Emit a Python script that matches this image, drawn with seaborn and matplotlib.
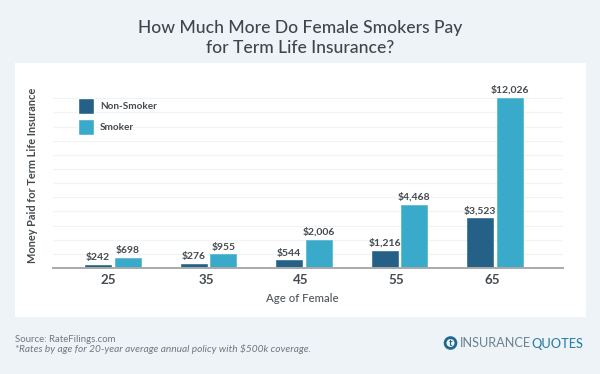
import matplotlib
matplotlib.use("Agg")
import matplotlib.pyplot as plt
from matplotlib.patches import Rectangle, Circle
import pandas as pd
import seaborn as sns

ages = ["25", "35", "45", "55", "65"]
non_smoker = [242, 276, 544, 1216, 3523]
smoker = [698, 955, 2006, 4468, 12026]
y_grid = [1000, 2000, 3000, 4000, 5000, 6000, 7000, 8000, 9000, 10000, 11000, 12000]

df = pd.DataFrame({
    "age": ages * 2,
    "paid": non_smoker + smoker,
    "group": ["Non-Smoker"] * len(ages) + ["Smoker"] * len(ages),
})

sns.set_theme(style="white")
plt.rcParams["font.family"] = ["Lato", "DejaVu Sans"]

W, H = 600, 374
bg = "#eef3f7"
dark = "#444b50"

fig = plt.figure(figsize=(6, 3.74), dpi=100, facecolor=bg)

# white card behind the chart
fig.add_artist(Rectangle((15 / W, 1 - 317 / H), 571 / W, 254 / H, transform=fig.transFigure,
                         facecolor="white", edgecolor="none", zorder=-1))

ax = fig.add_axes([53 / W, 1 - 268 / H, 510 / W, 172 / H])
ax.patch.set_alpha(0)

sns.barplot(data=df, x="age", y="paid", hue="group", order=ages,
            hue_order=["Non-Smoker", "Smoker"],
            palette=["#256186", "#3aaaca"], width=0.62, gap=0.13,
            saturation=1, ax=ax, zorder=3)

ax.set_xlim(-0.628, 4.712)
ax.set_ylim(0, 12160)
ax.set_yticks(y_grid)
ax.set_yticklabels([])
ax.tick_params(axis="y", length=0)
ax.grid(axis="y", color="#f1f3f4", linewidth=0.9, zorder=0)
ax.set_axisbelow(True)

# tick labels sit a little left of the bar groups in the original
ax.set_xticks([i + d for i, d in enumerate([-0.05, -0.02, -0.03, -0.03, -0.03])])
ax.set_xticklabels(ages, fontsize=9.6, fontweight="bold", color=dark)
ax.tick_params(axis="x", length=0, pad=4.3)

for name in ["top", "left", "right"]:
    ax.spines[name].set_visible(False)
ax.spines["bottom"].set_color("#a9a9a9")
ax.spines["bottom"].set_linewidth(1.4)
ax.spines["bottom"].set_zorder(5)

ax.set_xlabel("")
ax.set_ylabel("")

for cont, vals in zip(ax.containers, [non_smoker, smoker]):
    ax.bar_label(cont, labels=[f"${v:,}" for v in vals], padding=2,
                 fontsize=7.5, fontweight="bold", color=dark)
    for bar in cont:
        bar.set_edgecolor("#2f6f92" if vals is non_smoker else "#4fb6d1")
        bar.set_linewidth(0.5)

handles, labels = ax.get_legend_handles_labels()
leg = ax.legend(handles, labels, loc="upper left", bbox_to_anchor=(25 / 510, 170 / 172),
                frameon=False, handlelength=1.6, handleheight=2.08,
                labelspacing=0.5, handletextpad=0.6, borderpad=0, borderaxespad=0,
                prop={"weight": "bold", "size": 7.2})
for t in leg.get_texts():
    t.set_color(dark)

fig.text(300 / W, 1 - 28 / H, "How Much More Do Female Smokers Pay", ha="center", va="center",
         fontsize=12.6, color="#3f464b", fontweight="medium")
fig.text(300 / W, 1 - 48 / H, "for Term Life Insurance?", ha="center", va="center",
         fontsize=12.6, color="#3f464b", fontweight="medium")

fig.text(33 / W, 1 - 175 / H, "Money Paid for Term Life Insurance", rotation=90, ha="center",
         va="center", fontsize=7.9, fontweight="bold", color=dark)
fig.text(302 / W, 1 - 298.5 / H, "Age of Female", ha="center", va="center", fontsize=8.2,
         color="#50575c", fontweight="medium")

fig.text(15 / W, 1 - 339 / H, "Source: RateFilings.com", ha="left", va="center", fontsize=6.9,
         color="#6f787e")
fig.text(15 / W, 1 - 349 / H, "*Rates by age for 20-year average annual policy with $500k coverage.",
         ha="left", va="center", fontsize=7.3, color="#6f787e", style="italic")

# logo
logo = fig.add_axes([443 / W, 1 - 350.5 / H, 15 / W, 15 / H])
logo.set_xlim(-1, 1)
logo.set_ylim(-1, 1)
logo.axis("off")
logo.add_patch(Circle((0, 0), 0.72, facecolor="none", edgecolor="#1f6a8c", linewidth=2))
logo.text(0, 0, "t", ha="center", va="center", fontsize=7, fontweight="bold", color="#1f6a8c")
fig.text(460 / W, 1 - 343 / H, "INSURANCE", ha="left", va="center", fontsize=9.2, color="#6b8290")
fig.text(531 / W, 1 - 343.5 / H, "QUOTES", ha="left", va="center", fontsize=9.2, color="#2f7ea3",
         fontweight="medium")

fig.savefig("out.png", dpi=100, facecolor=bg)
